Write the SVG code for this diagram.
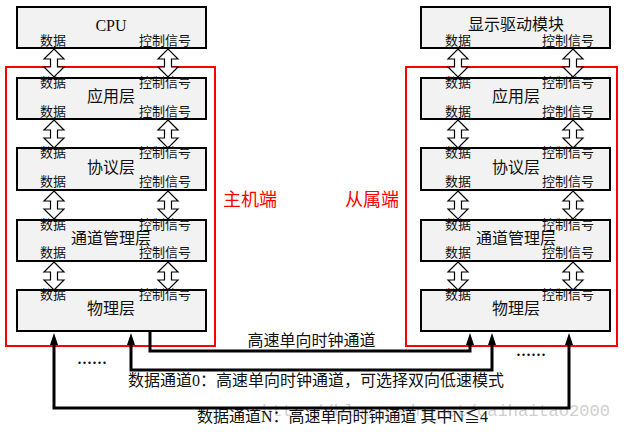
<svg xmlns="http://www.w3.org/2000/svg" width="626" height="432" viewBox="0 0 626 432">
<style>
text{font-family:"Liberation Serif","Noto Sans CJK SC",serif;fill:#111}
.box{fill:#f2f2f2;stroke:#000;stroke-width:2}
.lbl{font-size:13px;text-anchor:middle}
.ttl{font-size:16px;text-anchor:middle}
.dual{fill:#fff;stroke:#000;stroke-width:1.2}
.grp{fill:none;stroke:#f00;stroke-width:2}
.red{font-size:18px;fill:#f00;text-anchor:middle}
.wire{fill:none;stroke:#000;stroke-width:3}
.bt{font-size:16px}
.dots{font-size:20px}
</style>
<defs>
<path id="dual" class="dual" d="M0,0 L10,10 L3.5,10 L3.5,18 L10,18 L0,28 L-10,18 L-3.5,18 L-3.5,10 L-10,10 Z"/>
<marker id="ah" markerUnits="userSpaceOnUse" viewBox="0 0 12 8" markerWidth="12" markerHeight="8" refX="0" refY="4" orient="auto-start-reverse">
<path d="M0,0 L12,4 L0,8 Z" fill="#000"/>
</marker>
</defs>
<text x="262" y="416" font-size="17" style="fill:#cfcfcf;font-family:'Liberation Mono',monospace" textLength="348">http://blog.csdn.net/caihaitao2000</text>
<g id="groups">
<rect class="grp" x="6" y="67" width="209" height="279"/>
<rect class="grp" x="406" y="67" width="211" height="279"/>
<text class="red" x="250" y="206">主机端</text>
<text class="red" x="372" y="206">从属端</text>
</g>
<g id="stack-arrows">
<use href="#dual" x="54" y="49"/><use href="#dual" x="168" y="49"/>
<use href="#dual" x="54" y="120"/><use href="#dual" x="168" y="120"/>
<use href="#dual" x="54" y="191"/><use href="#dual" x="168" y="191"/>
<use href="#dual" x="54" y="262"/><use href="#dual" x="168" y="262"/>
<use href="#dual" x="458" y="49"/><use href="#dual" x="573" y="49"/>
<use href="#dual" x="458" y="120"/><use href="#dual" x="573" y="120"/>
<use href="#dual" x="458" y="191"/><use href="#dual" x="573" y="191"/>
<use href="#dual" x="458" y="262"/><use href="#dual" x="573" y="262"/>
</g>
<g id="cpu">
<rect class="box" x="17" y="7" width="189" height="41"/>
<text class="ttl" x="111" y="31">CPU</text>
<text class="lbl" x="53" y="45">数据</text><text class="lbl" x="165" y="45">控制信号</text>
</g>
<g id="app-l">
<rect class="box" x="17" y="78" width="189" height="41"/>
<text class="lbl" x="53" y="87">数据</text><text class="lbl" x="165" y="87">控制信号</text>
<text class="ttl" x="111" y="101.5">应用层</text>
<text class="lbl" x="53" y="115.5">数据</text><text class="lbl" x="165" y="115.5">控制信号</text>
</g>
<g id="proto-l">
<rect class="box" x="17" y="148" width="189" height="42"/>
<text class="lbl" x="53" y="157">数据</text><text class="lbl" x="165" y="157">控制信号</text>
<text class="ttl" x="111" y="172.5">协议层</text>
<text class="lbl" x="53" y="186">数据</text><text class="lbl" x="165" y="186">控制信号</text>
</g>
<g id="chan-l">
<rect class="box" x="17" y="220" width="189" height="41"/>
<text class="lbl" x="53" y="229">数据</text><text class="lbl" x="165" y="229">控制信号</text>
<text class="ttl" x="111" y="244">通道管理层</text>
<text class="lbl" x="53" y="257">数据</text><text class="lbl" x="165" y="257">控制信号</text>
</g>
<g id="phy-l">
<rect class="box" x="17" y="290" width="189" height="41"/>
<text class="lbl" x="53" y="299">数据</text><text class="lbl" x="165" y="299">控制信号</text>
<text class="ttl" x="111" y="314">物理层</text>
</g>
<g id="disp">
<rect class="box" x="421" y="7" width="189" height="41"/>
<text class="ttl" x="516" y="30">显示驱动模块</text>
<text class="lbl" x="458" y="45">数据</text><text class="lbl" x="568" y="45">控制信号</text>
</g>
<g id="app-r">
<rect class="box" x="421" y="78" width="189" height="41"/>
<text class="lbl" x="458" y="87">数据</text><text class="lbl" x="568" y="87">控制信号</text>
<text class="ttl" x="516" y="101.5">应用层</text>
<text class="lbl" x="458" y="115.5">数据</text><text class="lbl" x="568" y="115.5">控制信号</text>
</g>
<g id="proto-r">
<rect class="box" x="421" y="148" width="189" height="42"/>
<text class="lbl" x="458" y="157">数据</text><text class="lbl" x="568" y="157">控制信号</text>
<text class="ttl" x="516" y="172.5">协议层</text>
<text class="lbl" x="458" y="186">数据</text><text class="lbl" x="568" y="186">控制信号</text>
</g>
<g id="chan-r">
<rect class="box" x="421" y="220" width="189" height="41"/>
<text class="lbl" x="458" y="229">数据</text><text class="lbl" x="568" y="229">控制信号</text>
<text class="ttl" x="516" y="244">通道管理层</text>
<text class="lbl" x="458" y="257">数据</text><text class="lbl" x="568" y="257">控制信号</text>
</g>
<g id="phy-r">
<rect class="box" x="421" y="290" width="189" height="41"/>
<text class="lbl" x="458" y="299">数据</text><text class="lbl" x="568" y="299">控制信号</text>
<text class="ttl" x="516" y="314">物理层</text>
</g>
<g id="connectors">
<path class="wire" d="M150,332 V351 H470 V345" marker-end="url(#ah)"/>
<path class="wire" d="M131,345 V370 H492 V345" marker-start="url(#ah)" marker-end="url(#ah)"/>
<path class="wire" d="M54,345 V408 H569 V345" marker-start="url(#ah)" marker-end="url(#ah)"/>
<text class="bt" x="311.5" y="345.5" text-anchor="middle">高速单向时钟通道</text>
<text class="bt" x="128" y="385.5">数据通道0：高速单向时钟通道，可选择双向低速模式</text>
<text class="bt" x="197" y="422">数据通道N：高速单向时钟通道 其中N≦4</text>
<text class="dots" x="77" y="364">......</text>
<text class="dots" x="516" y="356">......</text>
</g>
</svg>
